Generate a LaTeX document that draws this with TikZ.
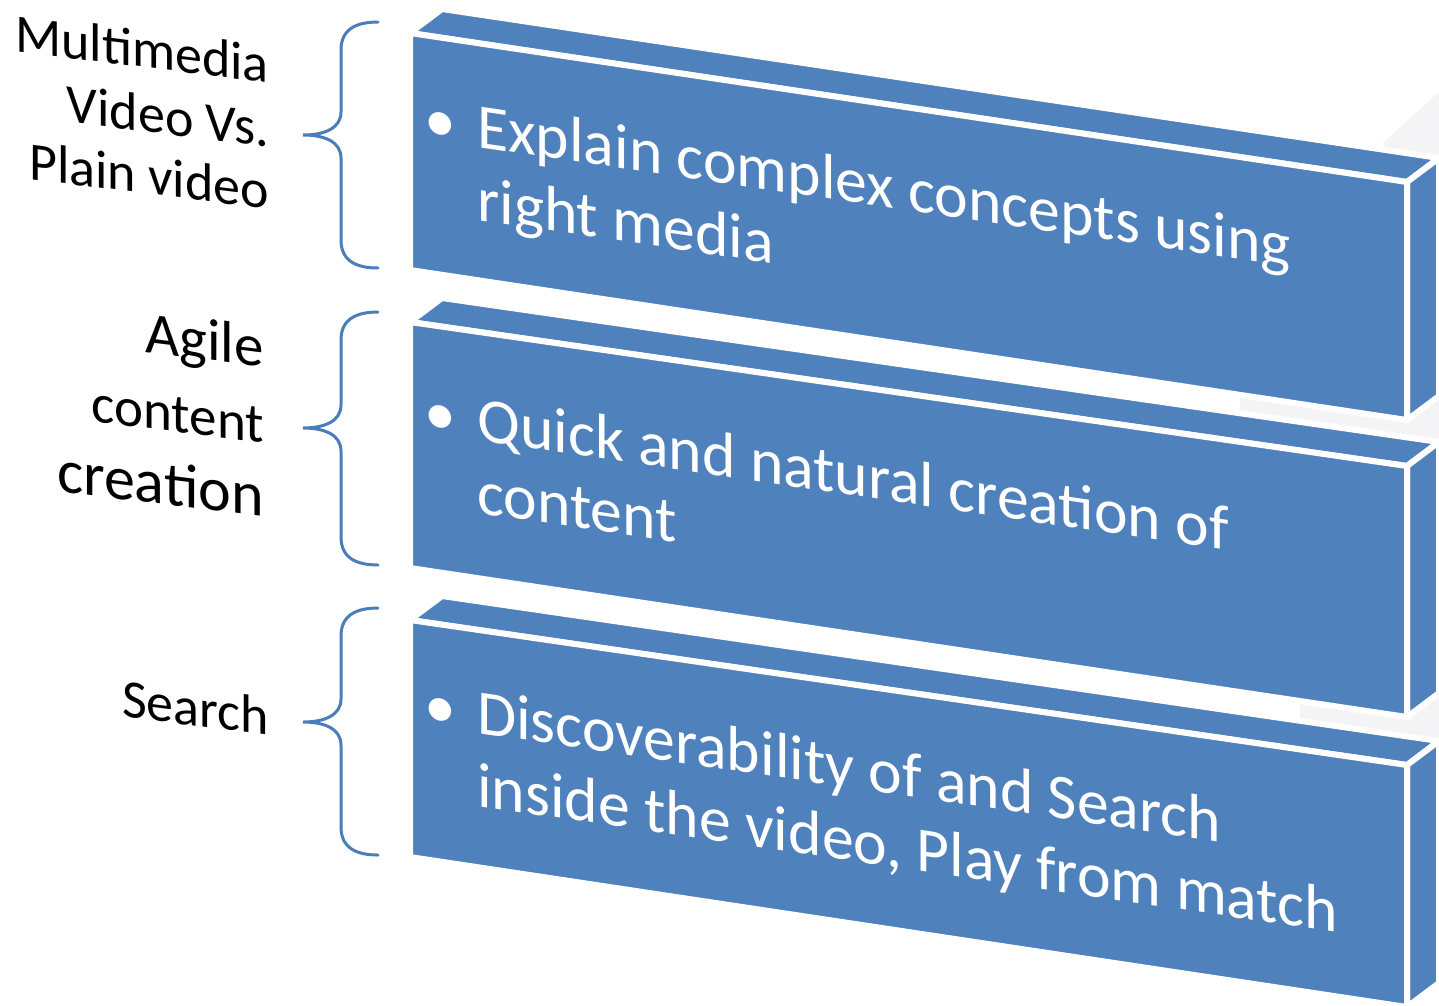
\documentclass[tikz,border=0pt]{standalone}
\usepackage{fontspec}
\setmainfont{Carlito}
\definecolor{boxblue}{RGB}{79,129,189}
\definecolor{braceblue}{RGB}{74,126,187}
\definecolor{bgshadecol}{RGB}{244,244,247}
\begin{document}
\begin{tikzpicture}[x=1pt,y=-1pt,
  face/.style={fill=boxblue, draw=white, line width=6pt, line join=round},
  faintshade/.style={fill=bgshadecol, draw=none},
  boxtext/.style={text=white, font=\fontsize{63.7}{73}\selectfont, inner sep=0pt, anchor=base west, yslant=-0.147},
  bullettext/.style={text=white, font=\fontsize{63.7}{73}\selectfont, inner sep=0pt, anchor=base, yslant=-0.147},
  labeltext/.style={text=black, inner sep=0pt, anchor=base east, yslant=-0.125},
  bracestyle/.style={draw=braceblue, line width=3pt, line cap=round}]
\useasboundingbox (0,0) rectangle (1439,1005);
\clip (0,0) rectangle (1439,1005);
\fill[white] (0,0) rectangle (1439,1005);

% faint background shading
\path[faintshade] (1383,143) -- (1439,92) -- (1439,175) -- (1400,175) -- cycle;
\path[faintshade] (1240,392) -- (1439,392) -- (1439,455) -- (1240,425) -- cycle;
\path[faintshade] (1300,700) -- (1439,690) -- (1439,750) -- (1300,735) -- cycle;

% box 1
\path[face] (410,33) -- (442,9) -- (1439,158) -- (1407,182) -- cycle;
\path[face] (1407,182) -- (1439,158) -- (1439,396) -- (1407,420) -- cycle;
\path[face] (410,33) -- (1407,182) -- (1407,420) -- (410,270) -- cycle;
% box 2
\path[face] (410,322) -- (442,298) -- (1439,442) -- (1407,466) -- cycle;
\path[face] (1407,466) -- (1439,442) -- (1439,693) -- (1407,717) -- cycle;
\path[face] (410,322) -- (1407,466) -- (1407,717) -- (410,568) -- cycle;
% box 3
\path[face] (410,620) -- (442,596) -- (1439,741) -- (1407,765) -- cycle;
\path[face] (1407,765) -- (1439,741) -- (1439,983) -- (1407,1007) -- cycle;
\path[face] (410,620) -- (1407,765) -- (1407,1007) -- (410,857) -- cycle;

% box texts
\node[bullettext] (b1) at (440,141.5) {•};
\node[boxtext] (t1a) at (477,147) {Explain complex concepts using};
\node[boxtext] (t1b) at (477,220) {right media};
\node[bullettext] (b2) at (440,434.5) {•};
\node[boxtext] (t2a) at (477,440) {Quick and natural creation of};
\node[boxtext] (t2b) at (477,513) {content};
\node[bullettext] (b3) at (440,727.5) {•};
\node[boxtext] (t3a) at (477,733) {Discoverability of and Search};
\node[boxtext] (t3b) at (477,806) {inside the video, Play from match};

% braces
\coordinate (br1) at (303,135);
\coordinate (br2) at (303,428);
\coordinate (br3) at (303,722);
\path[bracestyle] (378,22) .. controls (355,22) and (341,30) .. (341,50) -- (341,112)
  .. controls (341,128) and (325,135) .. (br1)
  .. controls (325,135) and (341,142) .. (341,158) -- (341,240)
  .. controls (341,260) and (355,268) .. (378,268);
\path[bracestyle] (378,312) .. controls (355,312) and (341,320) .. (341,340) -- (341,405)
  .. controls (341,421) and (325,428) .. (br2)
  .. controls (325,428) and (341,435) .. (341,451) -- (341,537)
  .. controls (341,557) and (355,565) .. (378,565);
\path[bracestyle] (378,608) .. controls (355,608) and (341,616) .. (341,636) -- (341,699)
  .. controls (341,715) and (325,722) .. (br3)
  .. controls (325,722) and (341,729) .. (341,745) -- (341,827)
  .. controls (341,847) and (355,855) .. (378,855);

% left labels
\node[labeltext, font=\fontsize{54}{64}\selectfont] (l1a) at (269,83) {Multimedia};
\node[labeltext, font=\fontsize{54}{64}\selectfont] (l1b) at (269,147) {Video Vs.};
\node[labeltext, font=\fontsize{54}{64}\selectfont] (l1c) at (269,209) {Plain video};
\node[labeltext, font=\fontsize{59}{69}\selectfont] (l2a) at (264,367) {Agile};
\node[labeltext, font=\fontsize{55}{65}\selectfont] (l2b) at (264,443) {content};
\node[labeltext, font=\fontsize{62}{72}\selectfont] (l2c) at (264,517) {creation};
\node[labeltext, font=\fontsize{54}{64}\selectfont] (l3a) at (269,735) {Search};
\end{tikzpicture}
\end{document}
